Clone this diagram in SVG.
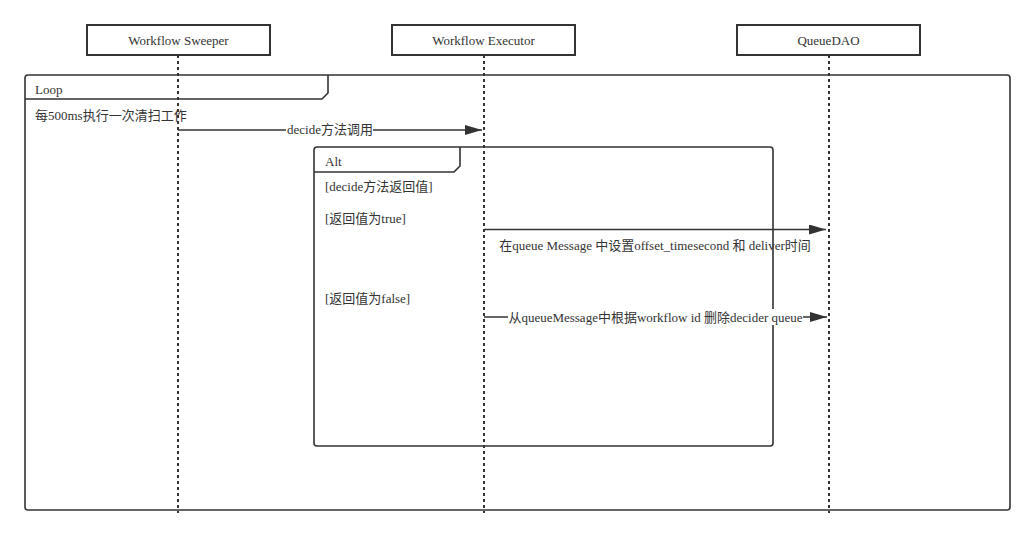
<svg xmlns="http://www.w3.org/2000/svg" width="1035" height="538" viewBox="0 0 1035 538">
<defs>
<style>
text{font-family:"Liberation Serif","Noto Sans CJK SC",serif;font-size:13px;fill:#333}
.box{fill:#fff;stroke:#333;stroke-width:2}
.life{stroke:#333;stroke-width:2;stroke-dasharray:3 3;fill:none}
.frame{fill:none;stroke:#333;stroke-width:1.6}
.msg{stroke:#333;stroke-width:1.6;fill:none}
.mid{text-anchor:middle}
</style>
<marker id="ah" markerWidth="18" markerHeight="12" refX="17" refY="5" orient="auto" markerUnits="userSpaceOnUse">
<path d="M0,0 L17,5 L0,10 Z" fill="#333"/>
</marker>
</defs>
<rect width="1035" height="538" fill="#fff"/>

<g id="frames">
<g id="loop">
<rect class="frame" x="25" y="75" width="985" height="435" rx="3"/>
<path class="frame" d="M25,99 H322 L328,93 V75"/>
<text x="35" y="94">Loop</text>
<text x="35" y="120">每500ms执行一次清扫工作</text>
</g>
<g id="alt">
<rect class="frame" x="314" y="147" width="459" height="299" rx="3"/>
<path class="frame" d="M314,172 H454 L460,166 V147"/>
<text x="325" y="166">Alt</text>
<text x="325" y="191">[decide方法返回值]</text>
<text x="325" y="223">[返回值为true]</text>
<text x="325" y="303">[返回值为false]</text>
</g>
</g>

<g id="lifelines">
<line class="life" x1="178" y1="55" x2="178" y2="513"/>
<line class="life" x1="484" y1="55" x2="484" y2="513"/>
<line class="life" x1="829" y1="55" x2="829" y2="513"/>
</g>

<g id="sweeper">
<rect class="box" x="87" y="25" width="183" height="30"/>
<text class="mid" x="178.5" y="45">Workflow Sweeper</text>
</g>
<g id="executor">
<rect class="box" x="392" y="25" width="183" height="30"/>
<text class="mid" x="483.5" y="45">Workflow Executor</text>
</g>
<g id="queuedao">
<rect class="box" x="737" y="25" width="183" height="30"/>
<text class="mid" x="828.5" y="45">QueueDAO</text>
</g>

<g id="connectors">
<g id="m1">
<line class="msg" x1="178" y1="130" x2="482" y2="130" marker-end="url(#ah)"/>
<rect x="286" y="121" width="87" height="16" fill="#fff"/>
<text class="mid" x="330" y="134">decide方法调用</text>
</g>
<g id="m2">
<line class="msg" x1="484" y1="229.5" x2="826" y2="229.5" marker-end="url(#ah)"/>
<text class="mid" x="655" y="250">在queue Message 中设置offset_timesecond 和 deliver时间</text>
</g>
<g id="m3">
<line class="msg" x1="484" y1="317" x2="827" y2="317" marker-end="url(#ah)"/>
<rect x="508" y="309" width="295" height="16" fill="#fff"/>
<text class="mid" x="655.5" y="322">从queueMessage中根据workflow id 删除decider queue</text>
</g>
</g>
</svg>
